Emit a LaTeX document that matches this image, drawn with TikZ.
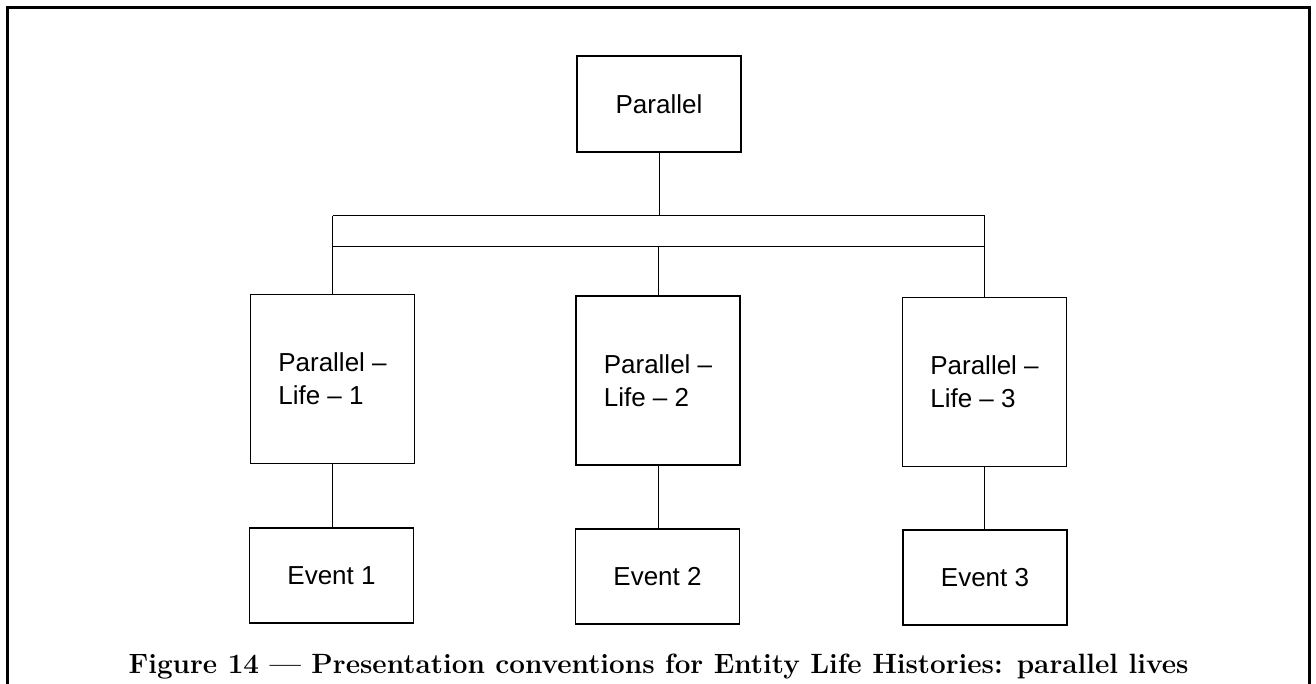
\documentclass[tikz,border=0pt]{standalone}
\usepackage{fontspec}
\newfontfamily\boxfont{Liberation Sans}
\begin{document}
\begin{tikzpicture}[x=1pt,y=-1pt,
  elhbox/.style={draw, line width=1.5pt, inner sep=0pt, align=left,
    font=\boxfont\fontsize{26}{33}\selectfont},
  topbox/.style={elhbox, minimum width=164pt, minimum height=96pt},
  lifebox/.style={elhbox, minimum width=164pt, minimum height=169pt},
  eventbox/.style={elhbox, minimum width=164pt, minimum height=95pt},
  link/.style={line width=1pt}
]
\useasboundingbox (0,0) rectangle (1316,684);

% open frame: left, top and right sides
\draw[line width=3pt, line join=miter] (7.5,700) -- (7.5,7.5) -- (1309,7.5) -- (1309,700);

% boxes
\node[topbox] (par) at (659,104) {Parallel};
\node[lifebox] (life1) at (332.5,379) {Parallel –\\Life – 1};
\node[lifebox] (life2) at (658,380.5) {Parallel –\\Life – 2};
\node[lifebox] (life3) at (984.5,382) {Parallel –\\Life – 3};
\node[eventbox] (ev1) at (331.5,575.5) {Event 1};
\node[eventbox] (ev2) at (657.5,576.5) {Event 2};
\node[eventbox] (ev3) at (985,577.5) {Event 3};

% parallel bar
\coordinate (barTL) at (332.5,216);
\coordinate (barTR) at (984.5,216);
\coordinate (barBL) at (332.5,247);
\coordinate (barBR) at (984.5,247);
\draw[link] (barTL) -- (barTR);
\draw[link] (barBL) -- (barBR);
\draw[link] (par.south) -- (par.south |- barTL);
\draw[link] (barTL) -- (life1.north);
\draw[link] (barTR) -- (life3.north);
\draw[link] (life2.north |- barBL) -- (life2.north);

% lives to events
\draw[link] (life1.south) -- (ev1.north -| life1.south);
\draw[link] (life2.south) -- (ev2.north -| life2.south);
\draw[link] (life3.south) -- (ev3.north -| life3.south);

% caption
\node[anchor=base, inner sep=0pt, font=\bfseries\fontsize{27.9}{31}\selectfont] (cap) at (658.5,673)
  {Figure 14 --- Presentation conventions for Entity Life Histories: parallel lives};
\end{tikzpicture}
\end{document}
